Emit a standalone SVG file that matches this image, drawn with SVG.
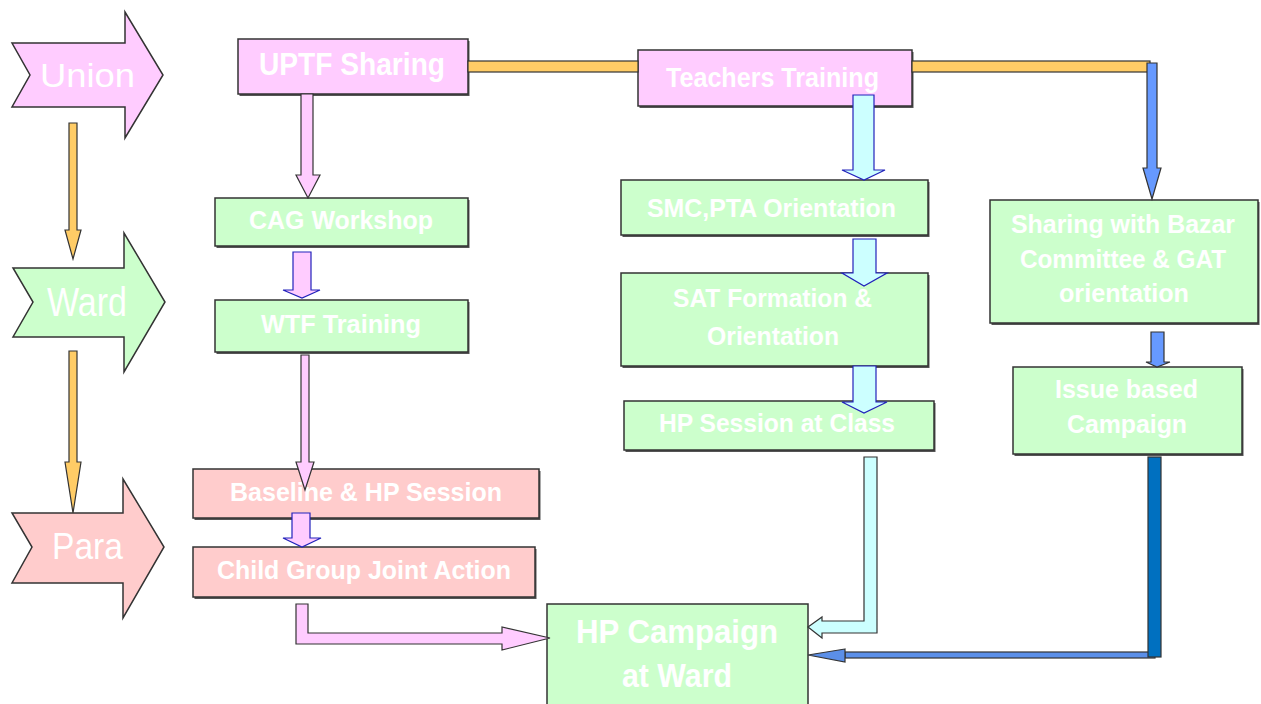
<svg xmlns="http://www.w3.org/2000/svg" width="1261" height="704" viewBox="0 0 1261 704">
<style>
.bx{stroke:#333;stroke-width:1.5}
.sh{fill:#555}
.pink{fill:#FFCCFF}
.green{fill:#CCFFCC}
.salmon{fill:#FFCCCC}
.t{font-family:"Liberation Sans Narrow","Liberation Sans",Arial,sans-serif;font-weight:bold;fill:#fff;text-anchor:middle}
.lv{font-family:"Liberation Sans",Arial,sans-serif;fill:#fff;text-anchor:middle}
.ar{stroke:#333;stroke-width:1.2;stroke-linejoin:miter}
.blu{stroke:#2222BB}
</style>
<rect width="1261" height="704" fill="#fff"/>
<g id="level-union">
<polygon class="pink bx" points="12,43 125,43 125,12 163,75 125,138 125,107 12,107 30,75"/>
<text class="lv" x="87.5" y="87" font-size="33" textLength="95" lengthAdjust="spacingAndGlyphs">Union</text>
</g>
<g id="level-ward">
<polygon class="green bx" points="13,268 124,268 124,233 165,302 124,372 124,337 13,337 33,302"/>
<text class="lv" x="87" y="316" font-size="40" textLength="80" lengthAdjust="spacingAndGlyphs">Ward</text>
</g>
<g id="level-para">
<polygon class="salmon bx" points="12,513 123,513 123,479 164,547 123,618 123,583 12,583 32,547"/>
<text class="lv" x="87.5" y="559" font-size="36" textLength="71" lengthAdjust="spacingAndGlyphs">Para</text>
</g>
<g id="uptf">
<rect class="sh" x="239.5" y="41" width="230" height="55"/>
<rect class="pink bx" x="238" y="39" width="230" height="55"/>
<text class="t" x="352" y="75" font-size="31" textLength="186" lengthAdjust="spacingAndGlyphs">UPTF Sharing</text>
</g>
<g id="teachers">
<rect class="sh" x="639.5" y="52" width="274" height="56"/>
<rect class="pink bx" x="638" y="50" width="274" height="56"/>
<text class="t" x="772.5" y="87" font-size="27" textLength="213" lengthAdjust="spacingAndGlyphs">Teachers Training</text>
</g>
<g id="cag">
<rect class="sh" x="216.5" y="200" width="253" height="48"/>
<rect class="green bx" x="215" y="198" width="253" height="48"/>
<text class="t" x="341" y="229" font-size="26" textLength="184" lengthAdjust="spacingAndGlyphs">CAG Workshop</text>
</g>
<g id="wtf">
<rect class="sh" x="216.5" y="302" width="253" height="52"/>
<rect class="green bx" x="215" y="300" width="253" height="52"/>
<text class="t" x="341" y="333" font-size="25" textLength="160" lengthAdjust="spacingAndGlyphs">WTF Training</text>
</g>
<g id="smc">
<rect class="sh" x="622.5" y="182" width="307" height="55"/>
<rect class="green bx" x="621" y="180" width="307" height="55"/>
<text class="t" x="771.5" y="217" font-size="26" textLength="249" lengthAdjust="spacingAndGlyphs">SMC,PTA Orientation</text>
</g>
<g id="sat">
<rect class="sh" x="622.5" y="275" width="307" height="93"/>
<rect class="green bx" x="621" y="273" width="307" height="93"/>
<text class="t" x="772.5" y="307" font-size="26" textLength="199" lengthAdjust="spacingAndGlyphs">SAT Formation &amp;</text>
<text class="t" x="773" y="345" font-size="26" textLength="132" lengthAdjust="spacingAndGlyphs">Orientation</text>
</g>
<g id="hpclass">
<rect class="sh" x="625.5" y="403" width="310" height="49"/>
<rect class="green bx" x="624" y="401" width="310" height="49"/>
<text class="t" x="777" y="432" font-size="25" textLength="236" lengthAdjust="spacingAndGlyphs">HP Session at Class</text>
</g>
<g id="bazar">
<rect class="sh" x="991.5" y="202" width="268" height="123"/>
<rect class="green bx" x="990" y="200" width="268" height="123"/>
<text class="t" x="1123" y="233" font-size="26" textLength="224" lengthAdjust="spacingAndGlyphs">Sharing with Bazar</text>
<text class="t" x="1123" y="268" font-size="26" textLength="206" lengthAdjust="spacingAndGlyphs">Committee &amp; GAT</text>
<text class="t" x="1124" y="302" font-size="26" textLength="130" lengthAdjust="spacingAndGlyphs">orientation</text>
</g>
<g id="issue">
<rect class="sh" x="1014.5" y="369" width="229" height="87"/>
<rect class="green bx" x="1013" y="367" width="229" height="87"/>
<text class="t" x="1126.5" y="398" font-size="26" textLength="143" lengthAdjust="spacingAndGlyphs">Issue based</text>
<text class="t" x="1127" y="433" font-size="26" textLength="120" lengthAdjust="spacingAndGlyphs">Campaign</text>
</g>
<g id="baseline">
<rect class="sh" x="194.5" y="471" width="346" height="49"/>
<rect class="salmon bx" x="193" y="469" width="346" height="49"/>
<text class="t" x="366" y="501" font-size="25" textLength="272" lengthAdjust="spacingAndGlyphs">Baseline &amp; HP Session</text>
</g>
<g id="child">
<rect class="sh" x="194.5" y="549" width="342" height="50"/>
<rect class="salmon bx" x="193" y="547" width="342" height="50"/>
<text class="t" x="364" y="579" font-size="25" textLength="294" lengthAdjust="spacingAndGlyphs">Child Group Joint Action</text>
</g>
<g id="hpcampaign">
<rect class="green bx" x="547" y="604" width="261" height="110"/>
<text class="t" x="677" y="643" font-size="33" textLength="202" lengthAdjust="spacingAndGlyphs">HP Campaign</text>
<text class="t" x="677" y="687" font-size="33" textLength="110" lengthAdjust="spacingAndGlyphs">at Ward</text>
</g>
<g id="connectors">
<!-- level arrows -->
<polygon class="ar" fill="#FFCC66" points="69,123 77,123 77,230 81,230 73,259 65,230 69,230"/>
<polygon class="ar" fill="#FFCC66" points="69,351 77,351 77,462 81,462 73,513 65,462 69,462"/>
<!-- orange bars -->
<rect class="ar" fill="#FFCC66" x="468" y="61" width="170" height="11"/>
<rect class="ar" fill="#FFCC66" x="912" y="61" width="238" height="11"/>
<!-- blue to bazar -->
<polygon class="ar" fill="#6699FF" points="1147,63 1157,63 1157,168 1161,168 1152,199 1143,168 1147,168"/>
<!-- bazar to issue -->
<polygon class="ar" fill="#6699FF" points="1151,332 1164,332 1164,362 1170,362 1157,367 1146,362 1151,362"/>
<!-- teachers to smc -->
<polygon class="ar blu" fill="#CCFFFF" points="853,95 874,95 874,170 885,170 864,180 842,170 853,170"/>
<polygon class="ar blu" fill="#CCFFFF" points="853,239 876,239 876,273 887,273 864,286 842,273 853,273"/>
<polygon class="ar blu" fill="#CCFFFF" points="853,366 876,366 876,402 887,402 864,413 842,402 853,402"/>
<!-- pink down arrows -->
<polygon class="ar" fill="#FFCCFF" points="301,94 313,94 313,175 320,175 308,198 296,175 301,175"/>
<polygon class="ar blu" fill="#FFCCFF" points="293,252 311,252 311,290 320,290 302,298 283,290 293,290"/>
<polygon class="ar" fill="#FFCCFF" points="301,355 309,355 309,462 314,462 305,490 296,462 301,462"/>
<polygon class="ar blu" fill="#FFCCFF" points="292,513 310,513 310,538 321,538 302,547 283,538 292,538"/>
<!-- child to campaign -->
<polygon class="ar" fill="#FFCCFF" points="296,604 308,604 308,633 502,633 502,627 550,638 502,650 502,644 296,644"/>
<!-- hp class to campaign -->
<polygon class="ar" fill="#CCFFFF" points="864,457 877,457 877,633 822,633 822,638 808,627 822,617 822,621 864,621"/>
<!-- issue to campaign -->
<rect class="ar" fill="#5B8FE8" x="845" y="652" width="310" height="6"/>
<polygon class="ar" fill="#5B8FE8" points="845,649 808,655 845,662"/>
<rect class="ar" fill="#0070C0" x="1148" y="457" width="13" height="200"/>
</g>
</svg>
